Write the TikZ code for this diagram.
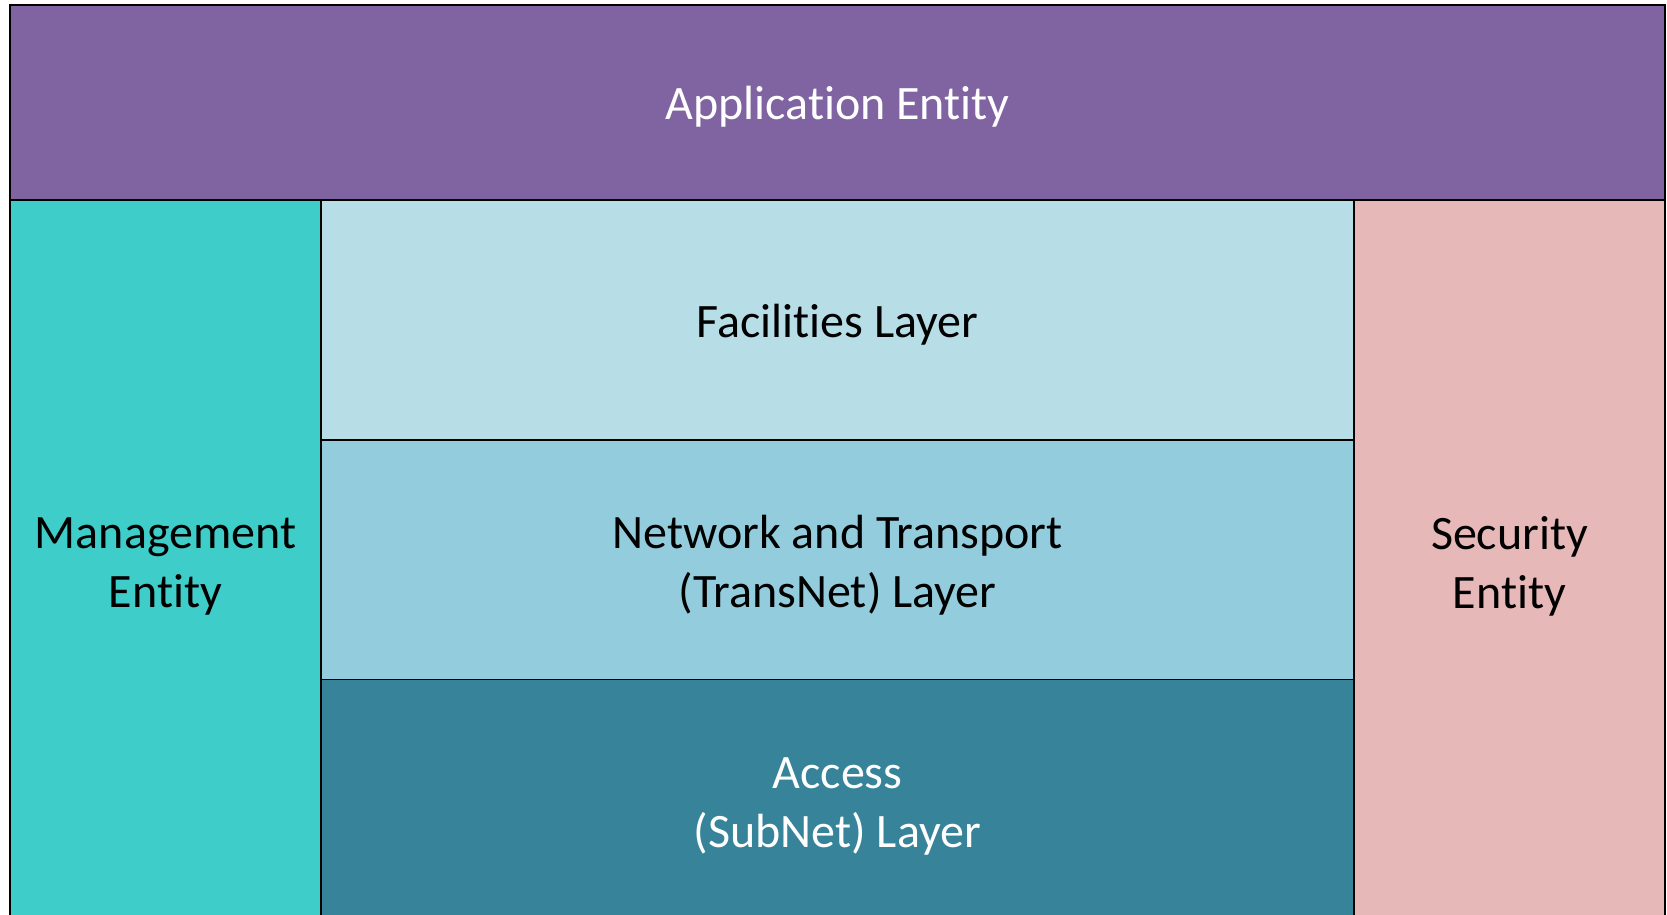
\documentclass[tikz,border=0pt]{standalone}
\usepackage{fontspec}
\setmainfont{Carlito}[RawFeature=-liga]
\definecolor{appcol}{HTML}{8064A2}
\definecolor{mgmtcol}{HTML}{3FCDC9}
\definecolor{seccol}{HTML}{E6B8B7}
\definecolor{faccol}{HTML}{B7DDE7}
\definecolor{netcol}{HTML}{93CDDD}
\definecolor{acccol}{HTML}{37849A}
\tikzset{
  block/.style={draw=black, line width=1.6pt, rectangle, inner sep=0pt},
  caption/.style={inner sep=0pt, align=center,
    font=\fontsize{48}{59}\selectfont},
}
\begin{document}
\begin{tikzpicture}[x=1pt, y=1pt]
\useasboundingbox (0,0) rectangle (1667,-915);
\clip (0,0) rectangle (1667,-915);
% top entity spanning the full width
\node[block, fill=appcol, minimum width=1655pt, minimum height=195pt]
  (app) at (837.5,-102.5) {};
% side entities
\node[block, fill=mgmtcol, minimum width=311pt, minimum height=725pt]
  (mgmt) at (165.5,-562.5) {};
\node[block, fill=seccol, minimum width=311pt, minimum height=725pt]
  (sec) at (1509.5,-562.5) {};
% protocol stack in the middle
\node[block, fill=faccol, minimum width=1033pt, minimum height=240pt]
  (fac) at (837.5,-320) {};
\node[block, fill=netcol, minimum width=1033pt, minimum height=239.5pt]
  (net) at (837.5,-559.75) {};
\node[block, fill=acccol, minimum width=1033pt, minimum height=245.5pt]
  (acc) at (837.5,-802.25) {};
% labels
\node[caption, text=white] (applbl) at ([yshift=-4pt]app.center) {Application Entity};
\node[caption] (mgmtlbl) at (165.5,-566) {Management\\Entity};
\node[caption] (seclbl) at (1509.5,-566) {Security\\Entity};
\node[caption] (faclbl) at ([yshift=-5pt]fac.center) {Facilities Layer};
\node[caption] (netlbl) at ([yshift=-5pt]net.center) {Network and Transport\\(TransNet) Layer};
\node[caption, text=white] (acclbl) at (837.5,-806.5) {Access\\(SubNet) Layer};
\end{tikzpicture}
\end{document}
